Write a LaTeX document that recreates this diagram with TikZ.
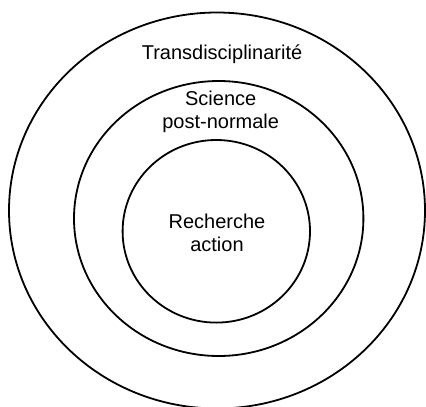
\documentclass[tikz,border=0pt]{standalone}
\usepackage{fontspec}
\setmainfont{Liberation Sans}
\usepackage{tikz}

\tikzset{ring/.style={line width=1.8pt}, lbl/.style={font=\fontsize{20}{22.5}\selectfont, align=center, inner sep=0pt}}

\begin{document}
\begin{tikzpicture}[x=1pt, y=-1pt]
 \useasboundingbox (0, 0) rectangle (426, 407);
 \draw [ring] (217, 210.5) ellipse [x radius=208, y radius=198];
 \draw [ring] (218.7, 218.5) ellipse [x radius=144.7, y radius=137.5];
 \draw [ring] (216.3, 231.3) ellipse [x radius=93.7, y radius=91.3];

 \node [lbl, anchor=base] (trans) at (222, 59.3) {Transdisciplinarité};
 \node [lbl] (pns) at (220.7, 111.9) {Science\\post-normale};
 \node [lbl] (ra) at (217, 232.7) {Recherche\\action};
\end{tikzpicture}
\end{document}
